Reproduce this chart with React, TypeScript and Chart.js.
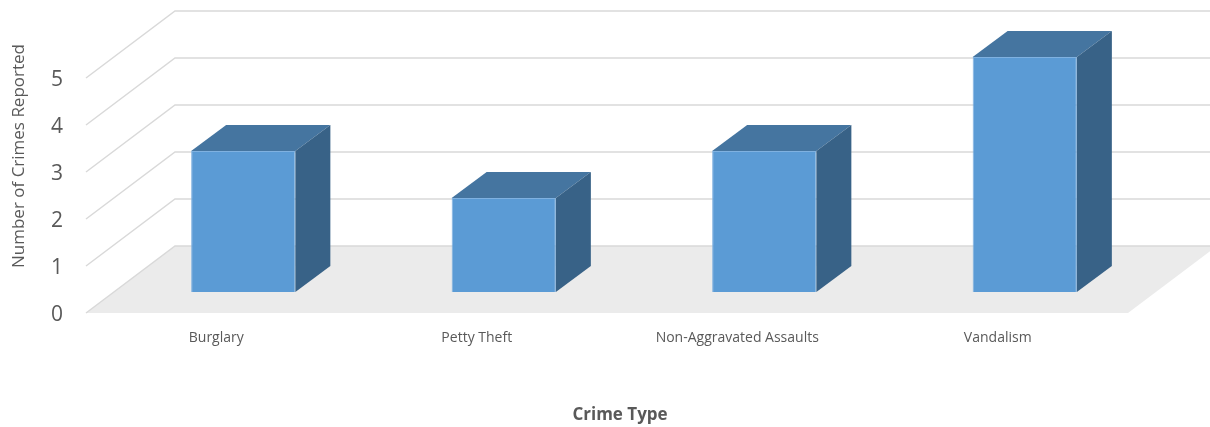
import React, { useEffect, useRef } from "react";
import { Chart, registerables } from "chart.js";

Chart.register(...registerables);

// ---- Data ----
const categories = ["Burglary", "Petty Theft", "Non-Aggravated Assaults", "Vandalism"];
const crimeCounts = [3, 2, 3, 5];
const yTickMin = 0;
const yTickMax = 5;
const yTickStep = 1;
const yAxisTitle = "Number of Crimes Reported";
const xAxisTitle = "Crime Type";

// ---- 3D geometry (styles) ----
const WALL_DX = 89;
const WALL_DY = -67;
const BAR_OFF_X = 27;
const BAR_OFF_Y = -21;
const BAR_DEPTH_X = 35;
const BAR_DEPTH_Y = -26;

const TEXT_COLOR = "#595959";
const GRID_COLOR = "#d9d9d9";
const FLOOR_COLOR = "#ebebeb";
const FRONT_COLOR = "#5b9bd5";
const TOP_COLOR = "#4575a0";
const SIDE_COLOR = "#386287";

const threeDPlugin = {
  id: "threeD",
  beforeDatasetsDraw(chart: any) {
    const { ctx, chartArea: a, scales } = chart;
    const y = scales.y;
    const y0 = y.getPixelForValue(0);
    ctx.save();
    // floor
    ctx.fillStyle = FLOOR_COLOR;
    ctx.beginPath();
    ctx.moveTo(a.left, y0);
    ctx.lineTo(a.right, y0);
    ctx.lineTo(a.right + WALL_DX, y0 + WALL_DY);
    ctx.lineTo(a.left + WALL_DX, y0 + WALL_DY);
    ctx.closePath();
    ctx.fill();
    // walls / gridlines
    ctx.strokeStyle = GRID_COLOR;
    ctx.lineWidth = 1.5;
    y.ticks.forEach((t: any) => {
      const yy = y.getPixelForValue(t.value);
      ctx.beginPath();
      ctx.moveTo(a.left, yy);
      ctx.lineTo(a.left + WALL_DX, yy + WALL_DY);
      ctx.lineTo(a.right + WALL_DX, yy + WALL_DY);
      ctx.stroke();
    });
    ctx.restore();
    ctx.save();
    ctx.translate(BAR_OFF_X, BAR_OFF_Y);
  },
  afterDatasetsDraw(chart: any) {
    const { ctx } = chart;
    const meta = chart.getDatasetMeta(0);
    meta.data.forEach((el: any) => {
      const { x, y, base, width } = el.getProps(["x", "y", "base", "width"], true);
      const l = x - width / 2;
      const r = x + width / 2;
      // top face
      ctx.fillStyle = TOP_COLOR;
      ctx.beginPath();
      ctx.moveTo(l, y);
      ctx.lineTo(r, y);
      ctx.lineTo(r + BAR_DEPTH_X, y + BAR_DEPTH_Y);
      ctx.lineTo(l + BAR_DEPTH_X, y + BAR_DEPTH_Y);
      ctx.closePath();
      ctx.fill();
      // side face
      ctx.fillStyle = SIDE_COLOR;
      ctx.beginPath();
      ctx.moveTo(r, y);
      ctx.lineTo(r + BAR_DEPTH_X, y + BAR_DEPTH_Y);
      ctx.lineTo(r + BAR_DEPTH_X, base + BAR_DEPTH_Y);
      ctx.lineTo(r, base);
      ctx.closePath();
      ctx.fill();
    });
    ctx.restore();

    // axis titles
    ctx.save();
    ctx.fillStyle = TEXT_COLOR;
    ctx.font = "17px 'Open Sans'";
    ctx.textAlign = "center";
    ctx.textBaseline = "middle";
    ctx.translate(19, 156);
    ctx.rotate(-Math.PI / 2);
    ctx.fillText(yAxisTitle, 0, 0);
    ctx.restore();

    ctx.save();
    ctx.fillStyle = TEXT_COLOR;
    ctx.font = "bold 17px 'Open Sans'";
    ctx.textAlign = "center";
    ctx.textBaseline = "middle";
    ctx.fillText(xAxisTitle, 620, 415);
    ctx.restore();
  },
};

export default function App() {
  const canvasRef = useRef<HTMLCanvasElement | null>(null);

  useEffect(() => {
    document.body.style.margin = "0";
    const canvas = canvasRef.current;
    if (!canvas) return;
    const chart = new Chart(canvas, {
      type: "bar",
      data: {
        labels: categories,
        datasets: [
          {
            data: crimeCounts,
            backgroundColor: FRONT_COLOR,
            borderColor: "#7fb1e0",
            borderWidth: 1,
            barPercentage: 0.4,
            categoryPercentage: 1,
            clip: false as any,
          },
        ],
      },
      options: {
        responsive: false,
        animation: false,
        layout: { padding: { top: 78, right: 82, left: 0, bottom: 0 } },
        plugins: {
          legend: { display: false },
          tooltip: { enabled: false },
        },
        scales: {
          x: {
            type: "category",
            offset: true,
            grid: { display: false, drawTicks: false },
            border: { display: false },
            ticks: {
              color: TEXT_COLOR,
              font: { family: "'Open Sans'", size: 14 },
              padding: 17,
              maxRotation: 0,
              autoSkip: false,
            },
            afterFit: (s: any) => {
              s.height = 114;
            },
          },
          y: {
            min: yTickMin,
            max: yTickMax,
            grid: { display: false, drawTicks: false },
            border: { display: false },
            ticks: {
              stepSize: yTickStep,
              color: TEXT_COLOR,
              font: { family: "'Open Sans'", size: 21 },
              padding: 23,
              labelOffset: 2,
            },
            afterFit: (s: any) => {
              s.width = 86;
            },
          },
        },
      },
      plugins: [threeDPlugin],
    });
    return () => chart.destroy();
  }, []);

  return (
    <div style={{ width: 1210, height: 427 }}>
      <canvas ref={canvasRef} width={1210} height={427} style={{ display: "block" }} />
    </div>
  );
}
